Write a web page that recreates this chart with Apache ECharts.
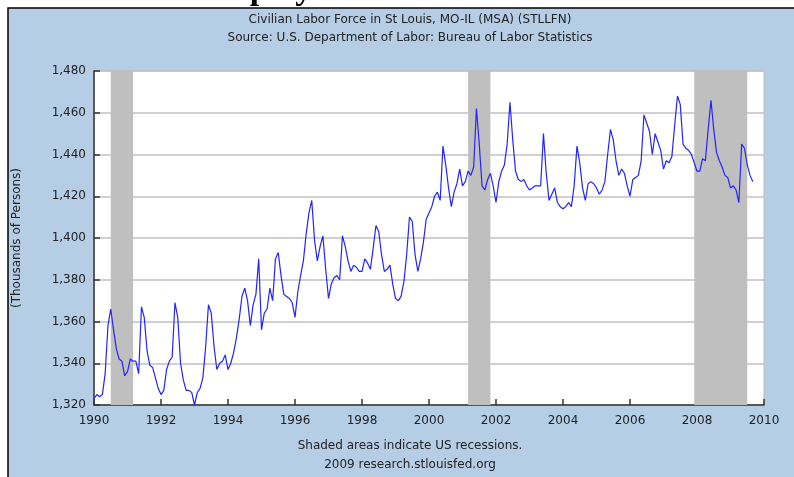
<!DOCTYPE html>
<html>
<head>
<meta charset="utf-8">
<script src="https://cdn.jsdelivr.net/npm/echarts@6/dist/echarts.min.js"></script>
<style>
  html, body { margin: 0; padding: 0; background: #fff; }
  #chart { width: 794px; height: 477px; }
</style>
</head>
<body>
<div id="chart"></div>
<script>
// monthly civilian labor force, thousands of persons (Jan..Dec)
const y1990 = [1323, 1325, 1324, 1325, 1335, 1358, 1366, 1356, 1347, 1342, 1341, 1334]
const y1991 = [1336, 1342, 1341, 1341, 1335, 1367, 1362, 1346, 1339, 1338, 1333, 1328]
const y1992 = [1325, 1327, 1337, 1341, 1343, 1369, 1362, 1340, 1332, 1327, 1327, 1326]
const y1993 = [1320, 1326, 1328, 1333, 1348, 1368, 1364, 1348, 1337, 1340, 1341, 1344]
const y1994 = [1337, 1340, 1345, 1352, 1361, 1372, 1376, 1370, 1358, 1368, 1373, 1390]
const y1995 = [1356, 1364, 1366, 1376, 1370, 1390, 1393, 1382, 1373, 1372, 1371, 1369]
const y1996 = [1362, 1374, 1382, 1389, 1402, 1412, 1418, 1399, 1389, 1396, 1401, 1385]
const y1997 = [1371, 1378, 1381, 1382, 1380, 1401, 1396, 1389, 1384, 1387, 1386, 1384]
const y1998 = [1384, 1390, 1388, 1385, 1395, 1406, 1403, 1392, 1384, 1385, 1387, 1378]
const y1999 = [1371, 1370, 1372, 1379, 1392, 1410, 1408, 1392, 1384, 1390, 1398, 1409]
const y2000 = [1412, 1415, 1420, 1422, 1418, 1444, 1435, 1424, 1415, 1422, 1426, 1433]
const y2001 = [1425, 1427, 1432, 1430, 1434, 1462, 1445, 1425, 1423, 1428, 1431, 1425]
const y2002 = [1417, 1427, 1432, 1435, 1445, 1465, 1447, 1432, 1428, 1427, 1428, 1425]
const y2003 = [1423, 1424, 1425, 1425, 1425, 1450, 1431, 1418, 1421, 1424, 1417, 1415]
const y2004 = [1414, 1415, 1417, 1415, 1425, 1444, 1436, 1424, 1418, 1426, 1427, 1426]
const y2005 = [1424, 1421, 1423, 1427, 1440, 1452, 1447, 1437, 1430, 1433, 1431, 1425]
const y2006 = [1420, 1428, 1429, 1430, 1437, 1459, 1455, 1451, 1440, 1450, 1446, 1442]
const y2007 = [1433, 1437, 1436, 1439, 1454, 1468, 1464, 1445, 1443, 1442, 1440, 1436]
const y2008 = [1432, 1432, 1438, 1437, 1452, 1466, 1452, 1441, 1437, 1434, 1430, 1429]
const y2009 = [1424, 1425, 1423, 1417, 1445, 1443, 1435, 1430, 1427]

const firstYear = 1990
const years = [y1990, y1991, y1992, y1993, y1994, y1995, y1996, y1997, y1998, y1999,
  y2000, y2001, y2002, y2003, y2004, y2005, y2006, y2007, y2008, y2009]

// recession start / end as decimal years
const recessions = [[1990.5, 1991.167], [2001.167, 2001.833], [2007.917, 2009.5]]

const yTicks = [1320, 1480, 20]
const xTicks = [1990, 2010, 2]

const titleLines = [
  'Civilian Labor Force in St Louis, MO-IL (MSA) (STLLFN)',
  'Source: U.S. Department of Labor: Bureau of Labor Statistics'
]
const footLines = ['Shaded areas indicate US recessions.', '2009 research.stlouisfed.org']
// page heading above the graph, mostly cut off at the top edge
const pageHeading = 'Total Employment in the St. Louis MSA'

const seriesData = years.flatMap((arr, i) => arr.map((v, k) => [firstYear + i + k / 12, v]))

const font = 'DejaVu Sans, Verdana, sans-serif'
const textColor = '#222'

const centerText = (text, y) => ({
  type: 'text', x: 410, y: y, silent: true,
  style: { text: text, align: 'center', verticalAlign: 'middle', font: '12px ' + font, fill: textColor }
})

const chart = echarts.init(document.getElementById('chart'), null, { renderer: 'canvas' })

chart.setOption({
  backgroundColor: '#fff',
  animation: false,
  graphic: [
    {
      type: 'rect', z: -10, silent: true,
      shape: { x: 8, y: 8, width: 800, height: 480 },
      style: { fill: '#b5cde5', stroke: '#000', lineWidth: 1.5 }
    },
    {
      type: 'text', x: 116, y: 7, silent: true,
      style: {
        text: pageHeading, align: 'left', verticalAlign: 'bottom', lineHeight: 34,
        font: 'bold 34px "Liberation Serif", "Times New Roman", serif', fill: '#000'
      }
    },
    centerText(titleLines[0], 20),
    centerText(titleLines[1], 38),
    centerText(footLines[0], 446),
    centerText(footLines[1], 465)
  ],
  grid: {
    left: 94, right: 30, top: 71, bottom: 72,
    show: true, backgroundColor: '#fff', borderColor: '#c0c0c0', borderWidth: 1
  },
  xAxis: {
    type: 'value',
    min: xTicks[0], max: xTicks[1], interval: xTicks[2],
    axisLine: { show: true, onZero: false, lineStyle: { color: '#333', width: 1.5 } },
    axisTick: { show: true, inside: true, length: 6, lineStyle: { color: '#333', width: 1.5 } },
    axisLabel: {
      color: textColor, fontSize: 12, fontFamily: font, margin: 10,
      formatter: (v) => String(v)
    },
    splitLine: { show: false }
  },
  yAxis: {
    type: 'value',
    min: yTicks[0], max: yTicks[1], interval: yTicks[2],
    name: '(Thousands of Persons)',
    nameLocation: 'middle', nameGap: 71,
    nameTextStyle: { color: textColor, fontSize: 12, fontFamily: font },
    axisLine: { show: true, lineStyle: { color: '#333', width: 1.5 } },
    axisTick: { show: true, inside: true, length: 6, lineStyle: { color: '#333', width: 1.5 } },
    axisLabel: {
      color: textColor, fontSize: 12, fontFamily: font, margin: 8,
      formatter: (v) => v.toLocaleString('en-US')
    },
    splitLine: { show: true, lineStyle: { color: '#c0c0c0', width: 1.5 } }
  },
  series: [{
    type: 'line',
    data: seriesData,
    showSymbol: false,
    lineStyle: { color: '#2323ff', width: 1.2 },
    markArea: {
      silent: true,
      itemStyle: { color: '#bfbfbf', opacity: 1 },
      data: recessions.map(([a, b]) => [{ xAxis: a }, { xAxis: b }])
    }
  }]
})
</script>
</body>
</html>
